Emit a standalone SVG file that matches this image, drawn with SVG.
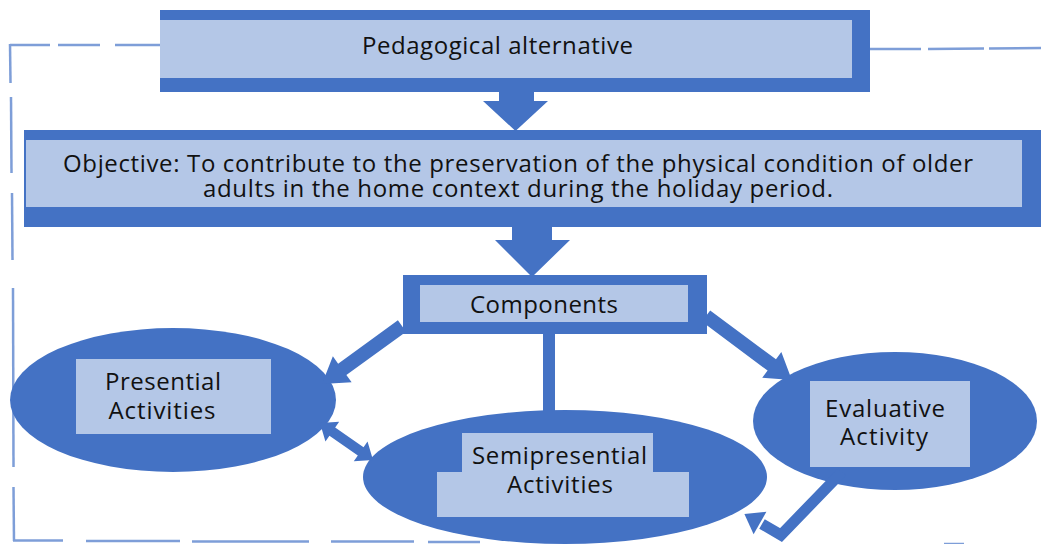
<svg xmlns="http://www.w3.org/2000/svg" width="1041" height="544" viewBox="0 0 1041 544">
  <style>
    .dark { fill: #4472C4; }
    .light { fill: #B4C7E7; }
    .frame line { stroke: #7E9ED8; stroke-width: 2.5; stroke-linecap: butt; }
    .lbl { font-family: "Open Sans", "Liberation Sans", sans-serif; font-size: 24px; fill: #111111; text-anchor: middle; }
    .conn { fill: #4472C4; }
    .shaft { fill: none; stroke: #4472C4; stroke-width: 11; stroke-linejoin: miter; }
  </style>

  <rect x="0" y="0" width="1041" height="544" fill="#ffffff"/>

  <!-- dashed outline around the whole model -->
  <g id="frame" class="frame">
    <line x1="10" y1="45" x2="50" y2="45"/>
    <line x1="58" y1="45" x2="100" y2="45"/>
    <line x1="115" y1="45" x2="162" y2="45"/>
    <line x1="870" y1="49" x2="921" y2="49"/>
    <line x1="928" y1="49" x2="984" y2="48.5"/>
    <line x1="989" y1="48.5" x2="1041" y2="48"/>
    <line x1="10" y1="44" x2="10.5" y2="83"/>
    <line x1="11" y1="97" x2="11.5" y2="173"/>
    <line x1="12" y1="193" x2="12.5" y2="260"/>
    <line x1="13" y1="288" x2="13.5" y2="467"/>
    <line x1="13.5" y1="487" x2="14" y2="541"/>
    <line x1="13" y1="540.5" x2="63" y2="540.5"/>
    <line x1="86" y1="541" x2="180" y2="541"/>
    <line x1="192" y1="541.5" x2="309" y2="541.5"/>
    <line x1="331" y1="541.5" x2="414" y2="541.5"/>
    <line x1="428" y1="542" x2="480" y2="542"/>
    <line x1="944" y1="544" x2="964" y2="544"/>
  </g>

  <!-- title box -->
  <g id="node-pedagogical">
    <rect class="dark" x="160" y="10" width="710" height="82"/>
    <rect class="light" x="160" y="20" width="692" height="58"/>
    <text class="lbl" x="497.5" y="54" textLength="271">Pedagogical alternative</text>
  </g>

  <!-- objective box -->
  <g id="node-objective">
    <rect class="dark" x="24" y="130" width="1017" height="97"/>
    <rect class="light" x="26" y="140" width="996" height="67"/>
    <text class="lbl" x="518" y="172" textLength="910">Objective: To contribute to the preservation of the physical condition of older</text>
    <text class="lbl" x="518" y="197" textLength="630">adults in the home context during the holiday period.</text>
  </g>

  <!-- components box -->
  <g id="node-components">
    <rect class="dark" x="403" y="275" width="304" height="59"/>
    <rect class="light" x="420" y="285" width="268" height="37"/>
    <text class="lbl" x="544" y="313" textLength="148">Components</text>
  </g>

  <!-- presential activities -->
  <g id="node-presential">
    <ellipse class="dark" cx="173" cy="400" rx="163" ry="72"/>
    <rect class="light" x="76" y="359" width="195" height="75"/>
    <text class="lbl" x="163" y="390" textLength="116">Presential</text>
    <text class="lbl" x="162" y="419" textLength="107">Activities</text>
  </g>

  <!-- semipresential activities -->
  <g id="node-semipresential">
    <ellipse class="dark" cx="565" cy="477" rx="202" ry="67"/>
    <rect class="light" x="462" y="433" width="191" height="84"/>
    <rect class="light" x="437" y="472" width="252" height="45"/>
    <text class="lbl" x="559.5" y="464" textLength="175">Semipresential</text>
    <text class="lbl" x="560" y="493" textLength="106">Activities</text>
  </g>

  <!-- evaluative activity -->
  <g id="node-evaluative">
    <ellipse class="dark" cx="895" cy="421" rx="142" ry="69"/>
    <rect class="light" x="810" y="381" width="160" height="86"/>
    <text class="lbl" x="885" y="417" textLength="120">Evaluative</text>
    <text class="lbl" x="884" y="445" textLength="88">Activity</text>
  </g>

  <!-- block arrows between the parts -->
  <g id="connectors">
    <polygon class="conn" points="499,92 534,92 534,101 548,101 515.5,131 483,101 499,101"/>
    <polygon class="conn" points="512,227 552,227 552,240 570,240 532,277 495,240 512,240"/>
    <polygon class="conn" transform="translate(402,326) rotate(144.06)" points="0,-7 73.8,-7 73.8,-16 98.8,0 73.8,16 73.8,7 0,7"/>
    <polygon class="conn" points="543,334 555,334 555,412 560,412 548,424 536,412 543,412"/>
    <polygon class="conn" transform="translate(706,316) rotate(36.66)" points="0,-7 82,-7 82,-16 107,0 82,16 82,7 0,7"/>
    <polygon class="conn" transform="translate(320,423) rotate(34.9)" points="0,0 15,-12 15,-5 49.6,-5 49.6,-12 64.6,0 49.6,12 49.6,5 15,5 15,12"/>
    <path class="shaft" d="M842,472 L781,535 L762,524"/>
    <polygon class="conn" points="766.4,511.7 744.4,514.1 753.6,534.3"/>
  </g>
</svg>
